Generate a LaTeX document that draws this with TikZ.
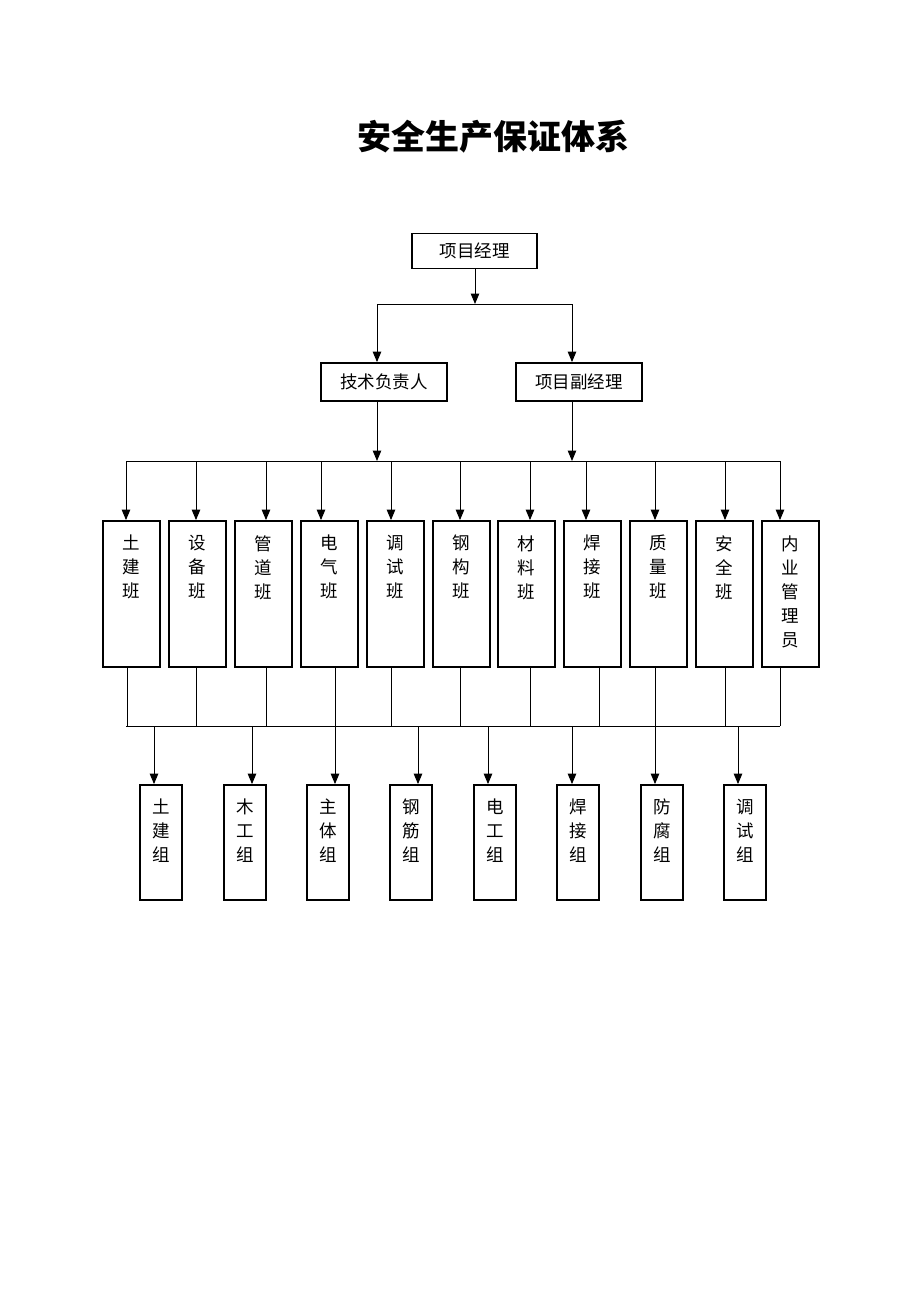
\documentclass[tikz,border=0pt]{standalone}
\usepackage{fontspec}
\newfontfamily\cjk{Noto Sans CJK SC}
\usetikzlibrary{arrows.meta}
\begin{document}
\begin{tikzpicture}[x=1pt,y=-1pt,
  box/.style={draw, line width=1.8pt, inner sep=0pt, fill=white},
  lbl/.style={font=\cjk\fontsize{17.5}{24}\selectfont, inner sep=0pt, align=center},
  arr/.style={line width=1pt, -{Triangle[width=8.5pt,length=10.5pt]}},
  ln/.style={line width=0.9pt}]
\useasboundingbox[fill=white] (0,0) rectangle (920,1302);

\node[font=\cjk\bfseries\fontsize{34}{40}\selectfont] (title) at (493,137) {安全生产保证体系};

% top level
\node[box, lbl, minimum width=125pt, minimum height=35pt] (pm) at (474.5,251) {项目经理};
\node[box, lbl, minimum width=126pt, minimum height=38pt] (tech) at (384,382) {技术负责人};
\node[box, lbl, minimum width=126pt, minimum height=38pt] (vpm) at (579,382) {项目副经理};

\coordinate (j1) at (475,304);
\coordinate (j1l) at (377,304);
\coordinate (j1r) at (572,304);
\draw[arr] (pm.south -| j1) -- (j1);
\draw[ln] (j1l) -- (j1r);
\draw[arr] (j1l) -- (j1l |- tech.north);
\draw[arr] (j1r) -- (j1r |- vpm.north);

% class level bus
\coordinate (tbL) at (126,461);
\coordinate (tbR) at (780,461);
\coordinate (tj1) at (377,461);
\coordinate (tj2) at (572,461);
\draw[ln] (tbL) -- (tbR);
\draw[arr] (tj1 |- tech.south) -- (tj1);
\draw[arr] (tj2 |- vpm.south) -- (tj2);

% bottom bus
\coordinate (bbL) at (126,726);
\coordinate (bbR) at (780,726);
\draw[ln] (bbL) -- (bbR);

% classes
\foreach \cx/\ax/\lx/\t [count=\i] in {
  131.5/126/127/{土\\建\\班},
  197.5/196/196/{设\\备\\班},
  263.5/266/266/{管\\道\\班},
  329.5/321/335/{电\\气\\班},
  395.5/391/391/{调\\试\\班},
  461.5/460/460/{钢\\构\\班},
  526.5/530/530/{材\\料\\班},
  592.5/586/599/{焊\\接\\班},
  658.5/655/655/{质\\量\\班},
  724.5/725/725/{安\\全\\班},
  790.5/780/780/{内\\业\\管\\理\\员}} {
  \node[box, minimum width=57pt, minimum height=146pt] (c\i) at (\cx,594) {};
  \node[lbl, anchor=north] (ct\i) at ([yshift=-15pt]c\i.north) {\t};
  \coordinate (ca\i) at (\ax,461);
  \coordinate (cb\i) at (\lx,726);
  \draw[arr] (ca\i) -- (ca\i |- c\i.north);
  \draw[ln] (cb\i |- c\i.south) -- (cb\i);
}

% groups
\foreach \gx/\ax/\t [count=\i] in {
  161/154/{土\\建\\组},
  245/252/{木\\工\\组},
  328/335/{主\\体\\组},
  411/418/{钢\\筋\\组},
  495/488/{电\\工\\组},
  578/572/{焊\\接\\组},
  662/655/{防\\腐\\组},
  745/738/{调\\试\\组}} {
  \node[box, minimum width=42pt, minimum height=115pt] (g\i) at (\gx,842.5) {};
  \node[lbl, anchor=north] (gt\i) at ([yshift=-15pt]g\i.north) {\t};
  \coordinate (ga\i) at (\ax,726);
  \draw[arr] (ga\i) -- (ga\i |- g\i.north);
}
\end{tikzpicture}
\end{document}
